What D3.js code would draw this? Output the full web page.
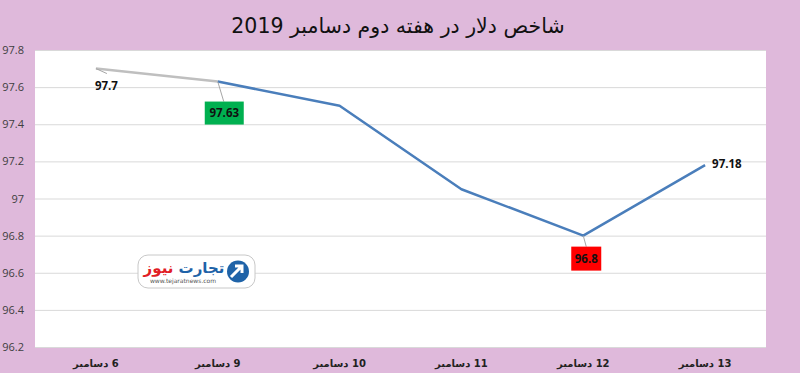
<!DOCTYPE html>
<html>
<head>
<meta charset="utf-8">
<script src="https://cdn.jsdelivr.net/npm/d3@7"></script>
<style>
    body { margin: 0; background: #dfb9db; }
    svg { display: block; }
</style>
</head>
<body>
<svg id="chart"></svg>
<script>
"use strict";

const title = "شاخص دلار در هفته دوم دسامبر 2019";
const days = ["6 دسامبر", "9 دسامبر", "10 دسامبر", "11 دسامبر", "12 دسامبر", "13 دسامبر"];
const values = [97.7, 97.63, 97.5, 97.05, 96.8, 97.18];
const yTicks = [96.2, 96.4, 96.6, 96.8, 97, 97.2, 97.4, 97.6, 97.8];

const width = 800;
const height = 373;
const margin = { top: 50, right: 34, bottom: 26, left: 35 };

const svg = d3.select("#chart")
    .attr("width", width)
    .attr("height", height);

svg.append("rect")
    .attr("width", width)
    .attr("height", height)
    .attr("fill", "#dfb9db");

const x = d3.scaleBand()
    .domain(days)
    .range([margin.left, width - margin.right]);

const y = d3.scaleLinear()
    .domain([96.2, 97.8])
    .range([height - margin.bottom, margin.top]);

// white plot area
svg.append("rect")
    .attr("x", margin.left)
    .attr("y", margin.top)
    .attr("width", width - margin.left - margin.right)
    .attr("height", height - margin.top - margin.bottom)
    .attr("fill", "white");

// title
svg.append("text")
    .attr("x", width / 2 - 2)
    .attr("y", 33)
    .attr("direction", "rtl")
    .attr("text-anchor", "middle")
    .style("font-family", "DejaVu Sans")
    .style("font-size", "20.5px")
    .attr("fill", "#111")
    .text(title);

// y axis + gridlines
const yAxis = svg.append("g")
    .attr("transform", `translate(${margin.left},0)`)
    .call(d3.axisLeft(y)
        .tickValues(yTicks)
        .tickFormat(d3.format("~g"))
        .tickSize(-(width - margin.left - margin.right))
        .tickPadding(11));
yAxis.select(".domain").remove();
yAxis.selectAll("line").attr("stroke", "#d9d9d9");
yAxis.selectAll("text")
    .style("font-family", "Open Sans")
    .style("font-size", "11px")
    .attr("fill", "#404040");

// x axis labels
const xAxis = svg.append("g")
    .attr("transform", `translate(0,${height - margin.bottom})`)
    .call(d3.axisBottom(x).tickSize(0).tickPadding(13));
xAxis.select(".domain").remove();
xAxis.selectAll("text")
    .attr("direction", "rtl")
    .style("font-family", "DejaVu Sans")
    .style("font-size", "10px")
    .style("font-weight", "bold")
    .attr("fill", "#222");

// logo (approximation)
const logo = svg.append("g").attr("transform", "translate(138,255)");
logo.append("rect")
    .attr("width", 117).attr("height", 33).attr("rx", 10)
    .attr("fill", "white").attr("stroke", "#c8c8c8");
logo.append("circle")
    .attr("cx", 100).attr("cy", 16.5).attr("r", 11)
    .attr("fill", "#1f63a8");
logo.append("path")
    .attr("d", "M93,22 L104,11 M97,11 L104,11 L104,18")
    .attr("stroke", "white").attr("stroke-width", 3).attr("fill", "none");
logo.append("text")
    .attr("x", 46).attr("y", 18)
    .attr("text-anchor", "middle")
    .attr("direction", "rtl")
    .style("font-family", "DejaVu Sans")
    .style("font-size", "15px")
    .style("font-weight", "bold")
    .call(t => {
        t.append("tspan").attr("fill", "#1f63a8").text("تجارت ");
        t.append("tspan").attr("fill", "#e11d25").text("نیوز");
    });
logo.append("text")
    .attr("x", 45).attr("y", 28)
    .attr("text-anchor", "middle")
    .style("font-family", "DejaVu Sans")
    .style("font-size", "6px")
    .attr("fill", "#555")
    .text("www.tejaratnews.com");

// line
const pts = days.map((d, i) => [x(d) + x.bandwidth() / 2, y(values[i])]);

svg.append("path")
    .attr("d", d3.line()(pts.slice(0, 2)))
    .attr("fill", "none")
    .attr("stroke", "#bfbfbf")
    .attr("stroke-width", 2.5);

svg.append("path")
    .attr("d", d3.line()(pts.slice(1)))
    .attr("fill", "none")
    .attr("stroke", "#4a7ebb")
    .attr("stroke-width", 2.5)
    .attr("stroke-linejoin", "round");

// data labels
const labelFont = t => t
    .style("font-family", "Open Sans")
    .style("font-size", "11.5px")
    .style("font-weight", "bold")
    .attr("fill", "#111");

// 97.7 with leader
svg.append("line")
    .attr("x1", pts[0][0]).attr("y1", pts[0][1])
    .attr("x2", pts[0][0] + 11).attr("y2", pts[0][1] + 5)
    .attr("stroke", "#a6a6a6");
svg.append("text")
    .attr("x", pts[0][0] - 1).attr("y", pts[0][1] + 21)
    .call(labelFont)
    .text(values[0]);

// 97.63 in green box
svg.append("line")
    .attr("x1", pts[1][0]).attr("y1", pts[1][1])
    .attr("x2", pts[1][0] + 6).attr("y2", pts[1][1] + 20)
    .attr("stroke", "#a6a6a6");
svg.append("rect")
    .attr("x", pts[1][0] - 13).attr("y", pts[1][1] + 20)
    .attr("width", 39).attr("height", 23)
    .attr("fill", "#00b050");
svg.append("text")
    .attr("x", pts[1][0] + 6.5).attr("y", pts[1][1] + 35.5)
    .attr("text-anchor", "middle")
    .call(labelFont)
    .text(values[1]);

// 96.8 in red box
svg.append("line")
    .attr("x1", pts[4][0]).attr("y1", pts[4][1])
    .attr("x2", pts[4][0] + 3).attr("y2", pts[4][1] + 11)
    .attr("stroke", "#a6a6a6");
svg.append("rect")
    .attr("x", pts[4][0] - 12).attr("y", pts[4][1] + 11)
    .attr("width", 30).attr("height", 24)
    .attr("fill", "#ff0000");
svg.append("text")
    .attr("x", pts[4][0] + 3).attr("y", pts[4][1] + 27)
    .attr("text-anchor", "middle")
    .call(labelFont)
    .text(values[4]);

// 97.18 plain
svg.append("text")
    .attr("x", pts[5][0] + 7).attr("y", pts[5][1] + 3)
    .call(labelFont)
    .text(values[5]);
</script>
</body>
</html>
